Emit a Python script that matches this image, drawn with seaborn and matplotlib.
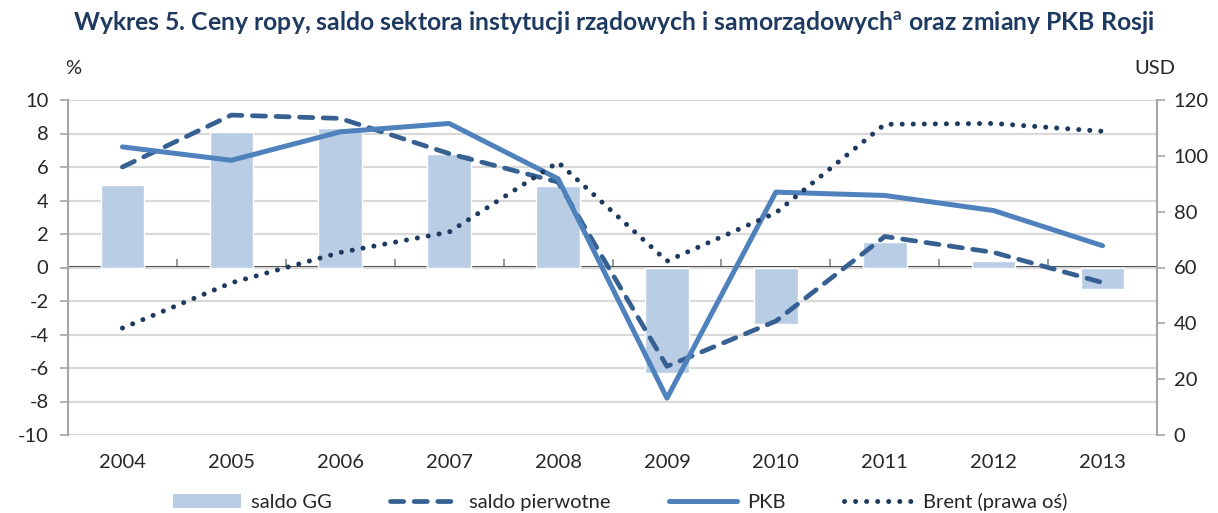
import matplotlib
matplotlib.use("Agg")
import matplotlib.pyplot as plt
import seaborn as sns
import pandas as pd
import numpy as np
from matplotlib.patches import Patch
from matplotlib.lines import Line2D

# Data
years = ["2004", "2005", "2006", "2007", "2008", "2009", "2010", "2011", "2012", "2013"]
saldo_gg = [4.9, 8.1, 8.3, 6.8, 4.85, -6.3, -3.4, 1.5, 0.4, -1.3]
saldo_pierwotne = [6.0, 9.1, 8.9, 6.8, 5.1, -5.9, -3.2, 1.85, 0.9, -0.9]
pkb = [7.2, 6.4, 8.1, 8.6, 5.3, -7.8, 4.5, 4.3, 3.4, 1.3]
brent = [38.3, 54.5, 65.4, 72.7, 97.7, 62.3, 79.6, 111.3, 111.6, 108.8]

left_ticks = list(range(-10, 11, 2))
right_ticks = list(range(0, 121, 20))

df = pd.DataFrame({
    "rok": years,
    "i": range(len(years)),
    "saldo_gg": saldo_gg,
    "saldo_pierwotne": saldo_pierwotne,
    "pkb": pkb,
    "brent": brent,
})

c_bar = "#B9CDE5"
c_dash = "#376092"
c_solid = "#4F81BD"
c_dot = "#1F3A5F"
c_title = "#1F3A60"
c_axis = "#A6A6A6"
c_grid = "#D9D9D9"

dash_style = (2.8, 2.2)
dot_style = (0.01, 2.2)

sns.set_theme(style="white")
plt.rcParams["font.family"] = ["Lato", "DejaVu Sans"]

fig = plt.figure(figsize=(12.18, 5.13), dpi=100)
ax = fig.add_axes([68 / 1218, 1 - 435 / 513, (1157 - 68) / 1218, (435 - 100) / 513])

sns.barplot(data=df, x="rok", y="saldo_gg", color=c_bar, width=0.4,
            saturation=1, ax=ax, zorder=2)
sns.lineplot(data=df, x="i", y="saldo_pierwotne", color=c_dash, lw=3.4,
             ax=ax, zorder=4)
ax.lines[-1].set_dashes(dash_style)
ax.lines[-1].set_dash_capstyle("round")
sns.lineplot(data=df, x="i", y="pkb", color=c_solid, lw=3.6, ax=ax, zorder=5)

ax.set_xlim(-0.5, len(years) - 0.5)
ax.set_ylim(-10, 10)
ax.set_yticks(left_ticks)
ax.set_yticklabels([str(t) for t in left_ticks])
ax.set_xticks(range(len(years)))
ax.set_xticklabels(years)
ax.set_xlabel("")
ax.set_ylabel("")
ax.grid(axis="y", color=c_grid, lw=1.6, zorder=0)
ax.grid(axis="x", visible=False)
ax.set_axisbelow(True)
for s in ["top", "right", "bottom"]:
    ax.spines[s].set_visible(False)
ax.spines["left"].set_color(c_axis)
ax.spines["left"].set_linewidth(1.5)
ax.tick_params(axis="y", which="major", direction="out", length=6, width=1.2,
               color=c_axis, labelsize=14.5, pad=8, left=True)
ax.tick_params(axis="x", length=0, labelsize=14.5, pad=14)

# category axis drawn at zero
zero_axis = ax.secondary_xaxis(0.5)
zero_axis.set_xticks(np.arange(0.5, len(years) - 1, 1.0))
zero_axis.tick_params(direction="out", length=6, width=1.2, color="#868686",
                      labelbottom=False, labeltop=False)
zero_axis.spines["bottom"].set_color("#868686")
zero_axis.spines["bottom"].set_linewidth(1.5)

ax2 = ax.twinx()
sns.lineplot(data=df, x="i", y="brent", color=c_dot, lw=3.6, ax=ax2, zorder=3)
ax2.lines[-1].set_dashes(dot_style)
ax2.lines[-1].set_dash_capstyle("round")
ax2.set_ylim(0, 120)
ax2.set_yticks(right_ticks)
ax2.set_yticklabels([str(t) for t in right_ticks])
ax2.set_ylabel("")
ax2.grid(False)
for s in ["top", "left", "bottom"]:
    ax2.spines[s].set_visible(False)
ax2.spines["right"].set_color(c_axis)
ax2.spines["right"].set_linewidth(1.5)
ax2.tick_params(axis="y", direction="out", length=6, width=1.2, color=c_axis,
                labelsize=14.5, pad=6, right=True)

fig.text(614 / 1218, 1 - 22 / 513,
         "Wykres 5. Ceny ropy, saldo sektora instytucji rządowych i samorządowych$^{\\mathregular{a}}$ oraz zmiany PKB Rosji",
         ha="center", va="center", fontsize=17.8, fontweight="bold", color=c_title)
fig.text(73 / 1218, 1 - 68 / 513, "%", ha="center", va="center", fontsize=14.5)
fig.text(1155 / 1218, 1 - 68 / 513, "USD", ha="center", va="center", fontsize=14.5)

handles = [
    Patch(facecolor=c_bar, edgecolor="none"),
    Line2D([], [], color=c_dash, lw=3.4, dashes=dash_style, dash_capstyle="round"),
    Line2D([], [], color=c_solid, lw=3.6),
    Line2D([], [], color=c_dot, lw=3.6, dashes=dot_style, dash_capstyle="round"),
]
labels = ["saldo GG", "saldo pierwotne", "PKB", "Brent (prawa oś)"]
fig.legend(handles, labels, loc="center", bbox_to_anchor=(620 / 1218, 1 - 502 / 513),
           ncol=4, frameon=False, fontsize=14.5, handlelength=3.4, handleheight=0.7,
           handletextpad=0.5, columnspacing=2.9)

fig.savefig("out.png", dpi=100)
